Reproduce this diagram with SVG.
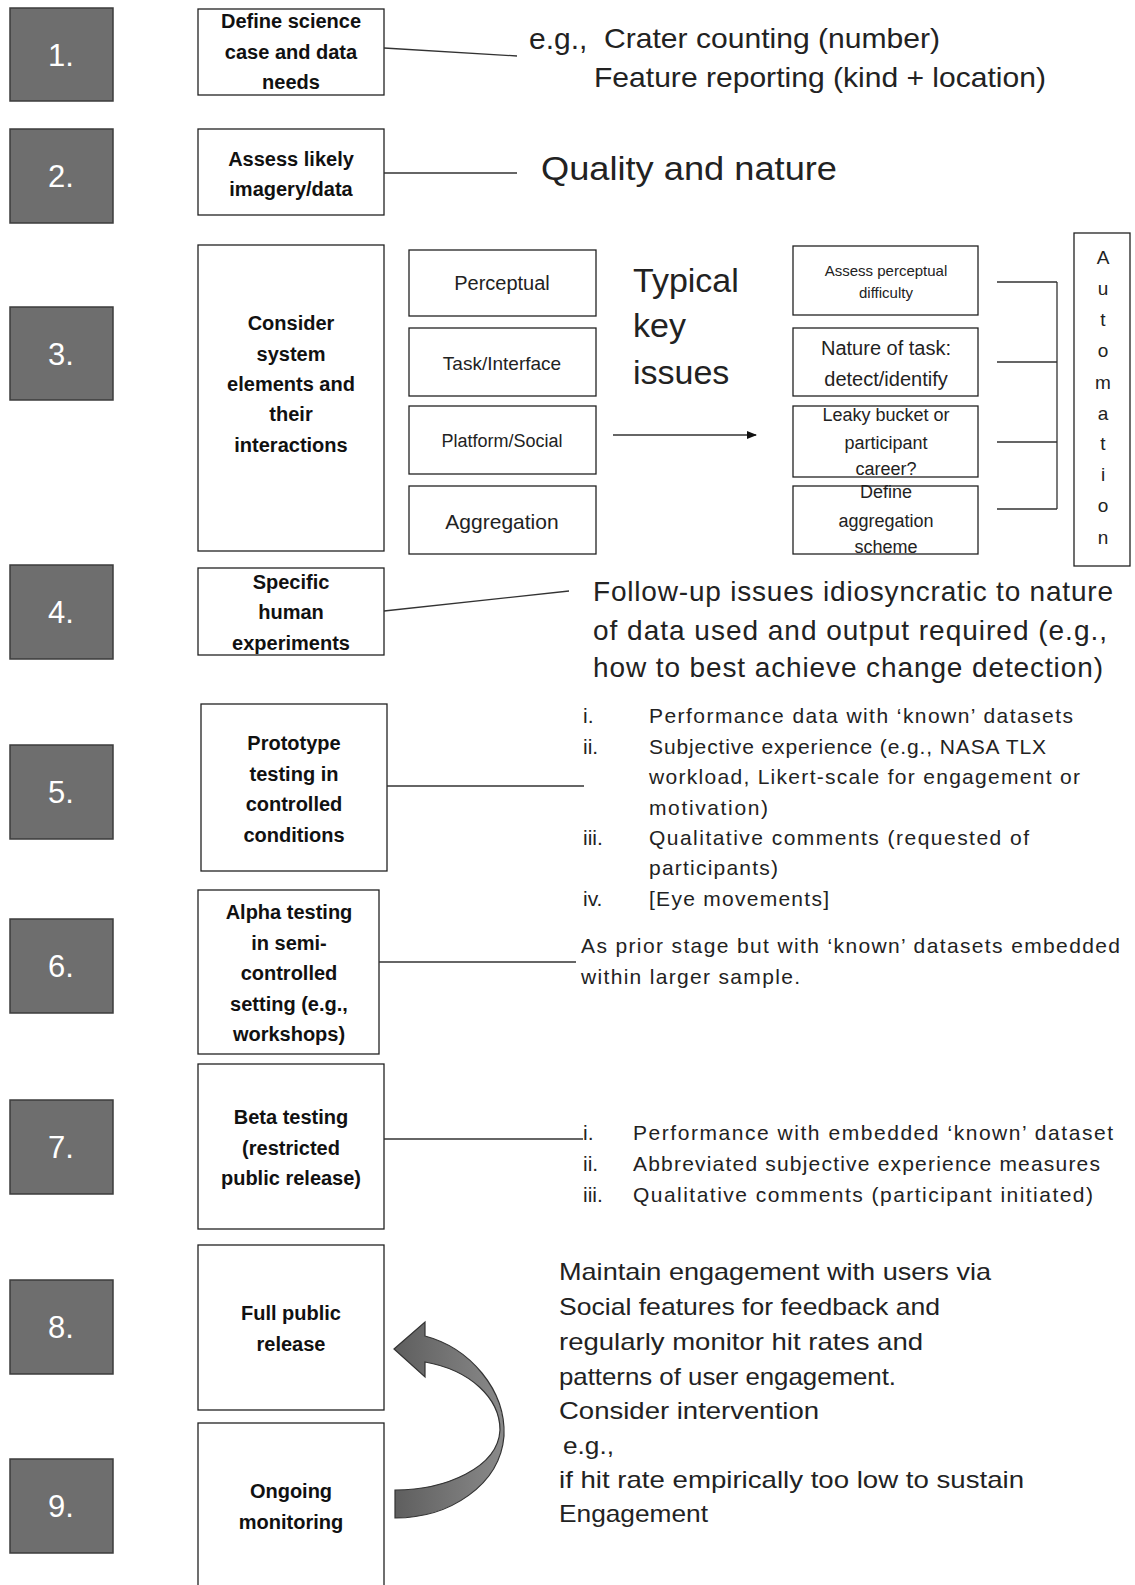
<svg xmlns="http://www.w3.org/2000/svg" width="1135" height="1585" viewBox="0 0 1135 1585">
<style>
.num rect{fill:#6e6e6e;stroke:#3c3c3c;stroke-width:1.5}
.num text{fill:#fff;font-family:"Liberation Sans",Arial,sans-serif;font-size:31px;text-anchor:middle;dominant-baseline:central}
.box{fill:#fff;stroke:#222;stroke-width:1.3}
.bl{font-family:"Liberation Sans",Arial,sans-serif;font-weight:bold;font-size:20px;text-anchor:middle;dominant-baseline:central;fill:#111}
.t{font-family:"Liberation Sans",Arial,sans-serif;fill:#222;dominant-baseline:central}
.c{text-anchor:middle}
.ln{stroke:#333;stroke-width:1.3;fill:none}
</style>
<defs>
<marker id="ah" markerWidth="10" markerHeight="8" refX="9" refY="4" orient="auto" markerUnits="userSpaceOnUse">
<path d="M0,0 L10,4 L0,8 Z" fill="#111"/>
</marker>
<linearGradient id="ag" x1="0" y1="0" x2="1" y2="0">
<stop offset="0" stop-color="#5e5e5e"/><stop offset="1" stop-color="#8a8a8a"/>
</linearGradient>
</defs>

<g id="n1num" class="num"><rect x="10" y="8" width="103" height="93"/><text x="61" y="55">1.</text></g>
<g id="n2num" class="num"><rect x="10" y="129" width="103" height="94"/><text x="61" y="176">2.</text></g>
<g id="n3num" class="num"><rect x="10" y="307" width="103" height="93"/><text x="61" y="354">3.</text></g>
<g id="n4num" class="num"><rect x="10" y="565" width="103" height="94"/><text x="61" y="612">4.</text></g>
<g id="n5num" class="num"><rect x="10" y="745" width="103" height="94"/><text x="61" y="792">5.</text></g>
<g id="n6num" class="num"><rect x="10" y="919" width="103" height="94"/><text x="61" y="966">6.</text></g>
<g id="n7num" class="num"><rect x="10" y="1100" width="103" height="94"/><text x="61" y="1147">7.</text></g>
<g id="n8num" class="num"><rect x="10" y="1280" width="103" height="94"/><text x="61" y="1327">8.</text></g>
<g id="n9num" class="num"><rect x="10" y="1459" width="103" height="94"/><text x="61" y="1506">9.</text></g>

<g id="step1"><rect class="box" x="198" y="9" width="186" height="86"/>
<text class="bl" x="291" y="21">Define science</text><text class="bl" x="291" y="52">case and data</text><text class="bl" x="291" y="82">needs</text></g>
<g id="step2"><rect class="box" x="198" y="129" width="186" height="86"/>
<text class="bl" x="291" y="159">Assess likely</text><text class="bl" x="291" y="189">imagery/data</text></g>
<g id="step3"><rect class="box" x="198" y="245" width="186" height="306"/>
<text class="bl" x="291" y="323">Consider</text><text class="bl" x="291" y="354">system</text><text class="bl" x="291" y="384">elements and</text><text class="bl" x="291" y="414">their</text><text class="bl" x="291" y="445">interactions</text></g>
<g id="step4"><rect class="box" x="198" y="568" width="186" height="87"/>
<text class="bl" x="291" y="582">Specific</text><text class="bl" x="291" y="612">human</text><text class="bl" x="291" y="643">experiments</text></g>
<g id="step5"><rect class="box" x="201" y="704" width="186" height="167"/>
<text class="bl" x="294" y="743">Prototype</text><text class="bl" x="294" y="774">testing in</text><text class="bl" x="294" y="804">controlled</text><text class="bl" x="294" y="835">conditions</text></g>
<g id="step6"><rect class="box" x="198" y="890" width="181" height="164"/>
<text class="bl" x="289" y="912">Alpha testing</text><text class="bl" x="289" y="943">in semi-</text><text class="bl" x="289" y="973">controlled</text><text class="bl" x="289" y="1004">setting (e.g.,</text><text class="bl" x="289" y="1034">workshops)</text></g>
<g id="step7"><rect class="box" x="198" y="1064" width="186" height="165"/>
<text class="bl" x="291" y="1117">Beta testing</text><text class="bl" x="291" y="1148">(restricted</text><text class="bl" x="291" y="1178">public release)</text></g>
<g id="step8"><rect class="box" x="198" y="1245" width="186" height="165"/>
<text class="bl" x="291" y="1313">Full public</text><text class="bl" x="291" y="1344">release</text></g>
<g id="step9"><rect class="box" x="198" y="1423" width="186" height="170"/>
<text class="bl" x="291" y="1491">Ongoing</text><text class="bl" x="291" y="1522">monitoring</text></g>

<g id="elements">
<g id="perceptual"><rect class="box" x="409" y="250" width="187" height="66"/><text class="t c" x="502" y="283" font-size="20">Perceptual</text></g>
<g id="task"><rect class="box" x="409" y="328" width="187" height="68"/><text class="t c" x="502" y="363" font-size="19">Task/Interface</text></g>
<g id="platform"><rect class="box" x="409" y="406" width="187" height="68"/><text class="t c" x="502" y="441" font-size="18">Platform/Social</text></g>
<g id="aggregation"><rect class="box" x="409" y="486" width="187" height="68"/><text class="t c" x="502" y="521" font-size="21">Aggregation</text></g>
</g>

<g id="typical"><text class="t" x="633" y="280" font-size="34">Typical</text><text class="t" x="633" y="325" font-size="34">key</text><text class="t" x="633" y="372" font-size="34">issues</text></g>

<g id="issues">
<g id="i1"><rect class="box" x="793" y="246" width="185" height="69"/><text class="t c" x="886" y="270" font-size="15">Assess perceptual</text><text class="t c" x="886" y="292" font-size="15">difficulty</text></g>
<g id="i2"><rect class="box" x="793" y="328" width="185" height="68"/><text class="t c" x="886" y="348" font-size="20">Nature of task:</text><text class="t c" x="886" y="379" font-size="20">detect/identify</text></g>
<g id="i3"><rect class="box" x="793" y="406" width="185" height="71"/><text class="t c" x="886" y="415" font-size="18">Leaky bucket or</text><text class="t c" x="886" y="443" font-size="18">participant</text><text class="t c" x="886" y="469" font-size="18">career?</text></g>
<g id="i4"><rect class="box" x="793" y="486" width="185" height="68"/><text class="t c" x="886" y="492" font-size="18">Define</text><text class="t c" x="886" y="521" font-size="18">aggregation</text><text class="t c" x="886" y="547" font-size="18">scheme</text></g>
</g>

<g id="automation"><rect class="box" x="1074" y="233" width="56" height="333"/>
<g class="t c" font-size="19">
<text x="1103" y="257">A</text><text x="1103" y="288">u</text><text x="1103" y="319">t</text><text x="1103" y="350">o</text><text x="1103" y="382">m</text><text x="1103" y="413">a</text><text x="1103" y="443">t</text><text x="1103" y="474">i</text><text x="1103" y="505">o</text><text x="1103" y="537">n</text>
</g></g>

<g id="connectors">
<line class="ln" x1="384" y1="48" x2="517" y2="56"/>
<line class="ln" x1="384" y1="173" x2="517" y2="173"/>
<line class="ln" x1="613" y1="435" x2="756" y2="435" marker-end="url(#ah)"/>
<path class="ln" d="M997,282 H1057 M997,362 H1057 M997,442 H1057 M997,509 H1057 M1057,282 V509"/>
<line class="ln" x1="384" y1="611" x2="569" y2="591"/>
<line class="ln" x1="387" y1="786" x2="584" y2="786"/>
<line class="ln" x1="379" y1="962" x2="576" y2="962"/>
<line class="ln" x1="384" y1="1139" x2="583" y2="1139"/>
<path id="curved-arrow" d="M394,1349 L425,1322 L425,1336 C470,1348 506,1390 504,1436 C500,1485 450,1518 395,1518 L395,1490 C445,1490 498,1468 500,1430 C500,1398 470,1370 425,1362 L425,1377 Z" fill="url(#ag)" stroke="#333" stroke-width="1.2"/>
</g>

<g id="note1">
<text class="t" x="529" y="38" font-size="30">e.g.,</text>
<text class="t" x="604" y="38" font-size="28" textLength="336" lengthAdjust="spacingAndGlyphs">Crater counting (number)</text>
<text class="t" x="594" y="77" font-size="28" textLength="452" lengthAdjust="spacingAndGlyphs">Feature reporting (kind + location)</text>
</g>
<g id="note2"><text class="t" x="541" y="168" font-size="33" textLength="296" lengthAdjust="spacingAndGlyphs">Quality and nature</text></g>
<g id="note4" font-size="28">
<text class="t" x="593" y="591" textLength="520">Follow-up issues idiosyncratic to nature</text>
<text class="t" x="593" y="630" textLength="514">of data used and output required (e.g.,</text>
<text class="t" x="593" y="667" textLength="510">how to best achieve change detection)</text>
</g>
<g id="note5" font-size="21">
<text class="t" x="583" y="715">i.</text><text class="t" x="649" y="715" textLength="424">Performance data with ‘known’ datasets</text>
<text class="t" x="583" y="746">ii.</text><text class="t" x="649" y="746" textLength="397">Subjective experience (e.g., NASA TLX</text>
<text class="t" x="649" y="776" textLength="431">workload, Likert-scale for engagement or</text>
<text class="t" x="649" y="807" textLength="119">motivation)</text>
<text class="t" x="583" y="837">iii.</text><text class="t" x="649" y="837" textLength="380">Qualitative comments (requested of</text>
<text class="t" x="649" y="867" textLength="129">participants)</text>
<text class="t" x="583" y="898">iv.</text><text class="t" x="649" y="898" textLength="180">[Eye movements]</text>
</g>
<g id="note6" font-size="21">
<text class="t" x="581" y="945" textLength="539">As prior stage but with ‘known’ datasets embedded</text>
<text class="t" x="581" y="976" textLength="219">within larger sample.</text>
</g>
<g id="note7" font-size="21">
<text class="t" x="583" y="1132">i.</text><text class="t" x="633" y="1132" textLength="480">Performance with embedded ‘known’ dataset</text>
<text class="t" x="583" y="1163">ii.</text><text class="t" x="633" y="1163" textLength="467">Abbreviated subjective experience measures</text>
<text class="t" x="583" y="1194">iii.</text><text class="t" x="633" y="1194" textLength="460">Qualitative comments (participant initiated)</text>
</g>
<g id="note8" font-size="24">
<text class="t" x="559" y="1271" textLength="432" lengthAdjust="spacingAndGlyphs">Maintain engagement with users via</text>
<text class="t" x="559" y="1306" textLength="381" lengthAdjust="spacingAndGlyphs">Social features for feedback and</text>
<text class="t" x="559" y="1341" textLength="364" lengthAdjust="spacingAndGlyphs">regularly monitor hit rates and</text>
<text class="t" x="559" y="1376" textLength="337" lengthAdjust="spacingAndGlyphs">patterns of user engagement.</text>
<text class="t" x="559" y="1410" textLength="260" lengthAdjust="spacingAndGlyphs">Consider intervention</text>
<text class="t" x="563" y="1445" textLength="51" lengthAdjust="spacingAndGlyphs">e.g.,</text>
<text class="t" x="559" y="1479" textLength="465" lengthAdjust="spacingAndGlyphs">if hit rate empirically too low to sustain</text>
<text class="t" x="559" y="1513" textLength="149" lengthAdjust="spacingAndGlyphs">Engagement</text>
</g>
</svg>
